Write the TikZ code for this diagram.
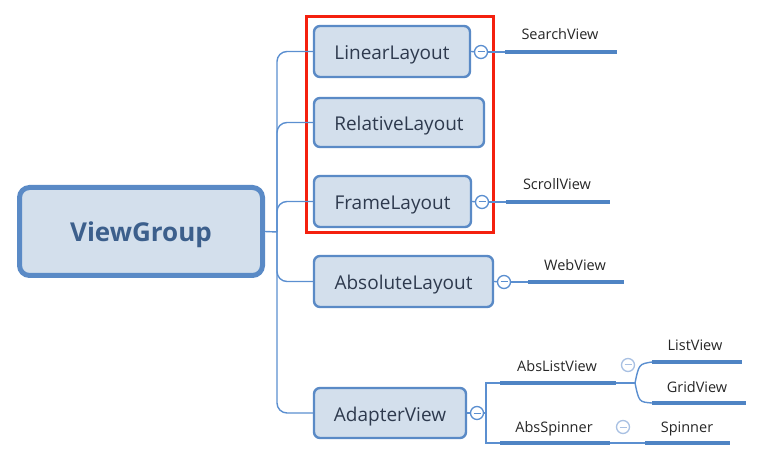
\documentclass[tikz,border=0pt]{standalone}
\usepackage{fontspec}
\setmainfont{Open Sans}
\definecolor{boxfill}{HTML}{D3DFEC}
\definecolor{boxline}{HTML}{5A8AC6}
\definecolor{connc}{HTML}{5B8FD0}
\definecolor{thickc}{HTML}{4F84C4}
\definecolor{boxtext}{HTML}{2E3A4E}
\definecolor{vgtext}{HTML}{3C5F8C}
\definecolor{lightc}{HTML}{A9C1E3}
\definecolor{redc}{HTML}{F4200F}
\tikzset{
  layoutbox/.style={draw=boxline, fill=boxfill, line width=2.4pt, rounded corners=6pt,
    text=boxtext, font=\fontsize{19}{21}\selectfont, inner sep=0pt,
    text height=16pt, text depth=0pt},
  rootbox/.style={draw=boxline, fill=boxfill, line width=5pt, rounded corners=10pt,
    text=vgtext, font=\fontsize{26}{29}\selectfont\bfseries, inner sep=0pt,
    text height=21pt, text depth=0pt,
    minimum width=243pt, minimum height=88pt},
  conn/.style={draw=connc, line width=1.4pt},
  under/.style={draw=thickc, line width=4pt},
  leaflbl/.style={text=black!85, font=\fontsize{14.5}{16}\selectfont, inner sep=0pt, anchor=base},
  collapse/.style={circle, draw=#1, fill=white, line width=1.3pt, minimum size=13pt, inner sep=0pt,
    path picture={\draw[#1, line width=1pt] ([xshift=3pt]path picture bounding box.west) -- ([xshift=-3pt]path picture bounding box.east);}},
  collapse/.default=connc,
}
\begin{document}
\begin{tikzpicture}[x=1pt, y=-1pt]
\useasboundingbox (0,0) rectangle (766,470);

% boxes
\node[rootbox] (vg) at (141,231.5) {ViewGroup};
\node[layoutbox, minimum width=156pt, minimum height=51pt] (ll) at (392,51.5) {LinearLayout};
\node[layoutbox, minimum width=170pt, minimum height=49pt] (rl) at (399,122.5) {RelativeLayout};
\node[layoutbox, minimum width=157pt, minimum height=51pt] (fl) at (392.5,201.5) {FrameLayout};
\node[layoutbox, minimum width=179pt, minimum height=51pt] (al) at (403.5,281.5) {AbsoluteLayout};
\node[layoutbox, minimum width=152pt, minimum height=50pt] (av) at (390,413) {AdapterView};

% red frame
\draw[redc, line width=3pt] (306,17) rectangle (493,233);

% trunk
\coordinate (t) at (277,232);
\draw[conn] (vg.east) -- (t);
\draw[conn, rounded corners=10pt] (t) -- (ll.west -| t) -- (ll.west);
\draw[conn, rounded corners=10pt] (t) -- (rl.west -| t) -- (rl.west);
\draw[conn, rounded corners=10pt] (t) -- (fl.west -| t) -- (fl.west);
\draw[conn, rounded corners=10pt] (t) -- (al.west -| t) -- (al.west);
\draw[conn, rounded corners=10pt] (t) -- (av.west -| t) -- (av.west);

% LinearLayout -> SearchView
\node[collapse] (c1) at (481,52) {};
\coordinate (sv1) at (505,52); \coordinate (sv2) at (617,52);
\draw[conn] (ll.east) -- (c1); \draw[conn] (c1) -- (sv1);
\draw[under] (sv1) -- (sv2);
\node[leaflbl] (svl) at (560,40) {SearchView};

% FrameLayout -> ScrollView
\node[collapse] (c2) at (482,202) {};
\coordinate (sc1) at (506,202); \coordinate (sc2) at (610,202);
\draw[conn] (fl.east) -- (c2); \draw[conn] (c2) -- (sc1);
\draw[under] (sc1) -- (sc2);
\node[leaflbl] (scl) at (557,190) {ScrollView};

% AbsoluteLayout -> WebView
\node[collapse] (c3) at (504,282) {};
\coordinate (wv1) at (528,282); \coordinate (wv2) at (624,282);
\draw[conn] (al.east) -- (c3); \draw[conn] (c3) -- (wv1);
\draw[under] (wv1) -- (wv2);
\node[leaflbl] (wvl) at (575,271) {WebView};

% AdapterView
\node[collapse] (c4) at (477,413) {};
\draw[conn] (av.east) -- (c4);
\coordinate (f) at (486,413);
\coordinate (alv1) at (500,383); \coordinate (alv2) at (616,383);
\coordinate (asp1) at (500,443); \coordinate (asp2) at (610,443);
\draw[conn] (c4) -- (f);
\draw[conn] (alv1) -- (alv1 -| f) -- (asp1 -| f) -- (asp1);
\draw[under] (alv1) -- (alv2);
\draw[under] (asp1) -- (asp2);
\node[leaflbl] (alvl) at (557,371) {AbsListView};
\node[leaflbl] (aspl) at (554,432) {AbsSpinner};
\node[collapse=lightc] (c5) at (628,365) {};
\node[collapse=lightc] (c6) at (623,427) {};

% AbsListView -> ListView / GridView
\coordinate (g) at (635,383);
\coordinate (lv1) at (652,362); \coordinate (lv2) at (742,362);
\coordinate (gv1) at (652,403); \coordinate (gv2) at (746,403);
\draw[conn] (alv2) -- (g);
\draw[conn] (g) .. controls (639,364) .. (lv1);
\draw[conn] (g) .. controls (639,402) .. (gv1);
\draw[under] (lv1) -- (lv2);
\draw[under] (gv1) -- (gv2);
\node[leaflbl] (lvl) at (695,351) {ListView};
\node[leaflbl] (gvl) at (697,392) {GridView};

% AbsSpinner -> Spinner
\coordinate (sp1) at (645,443); \coordinate (sp2) at (730,443);
\draw[conn] (asp2) -- (sp1);
\draw[under] (sp1) -- (sp2);
\node[leaflbl] (spl) at (687,432) {Spinner};
\end{tikzpicture}
\end{document}
